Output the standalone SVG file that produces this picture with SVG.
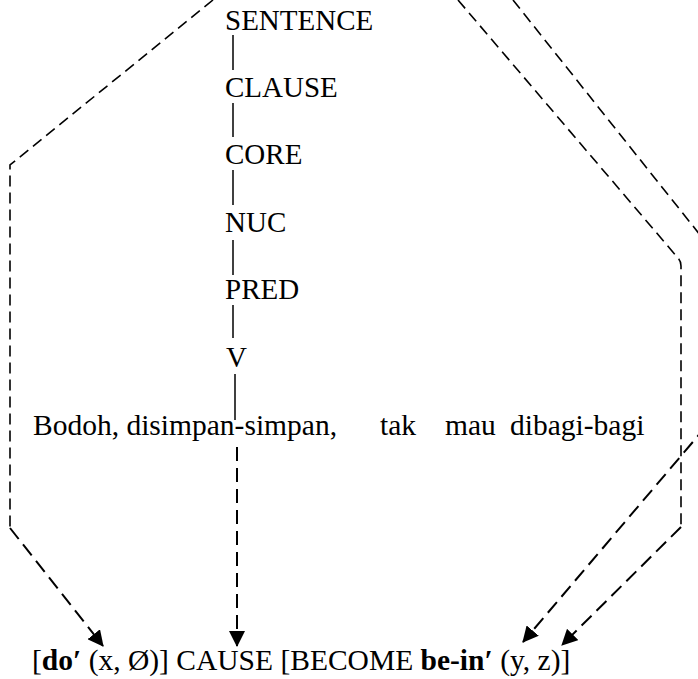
<svg xmlns="http://www.w3.org/2000/svg" width="698" height="679" viewBox="0 0 698 679">
<style>
  text { font-family: "Liberation Serif", "Times New Roman", serif; font-size: 29px; fill: #000; }
  .big { font-size: 29.5px; }
  .b { font-weight: bold; }
  .tree { stroke: #000; stroke-width: 1.5; fill: none; }
  .dt { stroke: #000; stroke-width: 1.6; fill: none; stroke-dasharray: 11 6; }
  .da { stroke: #000; stroke-width: 2; fill: none; stroke-dasharray: 14 7; }
</style>
<defs>
  <marker id="ah" markerUnits="userSpaceOnUse" markerWidth="16" markerHeight="16" viewBox="0 0 16 16" refX="15" refY="8" orient="auto">
    <path d="M0,0 L16,8 L0,16 Z" fill="#000"/>
  </marker>
</defs>
<rect width="698" height="679" fill="#fff"/>

<g id="node-sentence"><text x="225" y="30">SENTENCE</text></g>
<g id="node-clause"><text x="225" y="97">CLAUSE</text></g>
<g id="node-core"><text x="225" y="164">CORE</text></g>
<g id="node-nuc"><text x="225" y="232">NUC</text></g>
<g id="node-pred"><text x="225" y="299">PRED</text></g>
<g id="node-v"><text x="226" y="367">V</text></g>
<g id="node-sentence-text">
  <text class="big" x="33" y="435">Bodoh, disimpan-simpan,</text>
  <text class="big" x="380" y="435">tak</text>
  <text class="big" x="445" y="435">mau</text>
  <text class="big" x="510" y="435">dibagi-bagi</text>
</g>
<g id="node-logical-structure">
  <text class="big" x="32" y="670">[<tspan class="b">do′</tspan> (x, Ø)] CAUSE [BECOME <tspan class="b">be-in′</tspan> (y, z)]</text>
</g>

<g id="connectors">
  <line class="tree" x1="233" y1="35" x2="233" y2="70"/>
  <line class="tree" x1="233" y1="103" x2="233" y2="137"/>
  <line class="tree" x1="233" y1="170" x2="233" y2="205"/>
  <line class="tree" x1="233" y1="240" x2="233" y2="275"/>
  <line class="tree" x1="233" y1="305" x2="233" y2="338"/>
  <line class="tree" x1="235" y1="374" x2="235" y2="420"/>

  <path class="dt" d="M213,0 L10,165 L10,528"/>
  <path class="da" d="M10,528 L103,646" marker-end="url(#ah)"/>

  <path class="da" d="M237,447 L237,646" marker-end="url(#ah)"/>

  <path class="dt" d="M458,0 L678,258 Q681,261 681,266 L681,527"/>
  <path class="da" d="M681,527 L562,645" marker-end="url(#ah)"/>

  <path class="dt" d="M513,0 L720,260 L720,410"/>
  <path class="da" d="M720,410 L523,642" marker-end="url(#ah)"/>
</g>
</svg>
